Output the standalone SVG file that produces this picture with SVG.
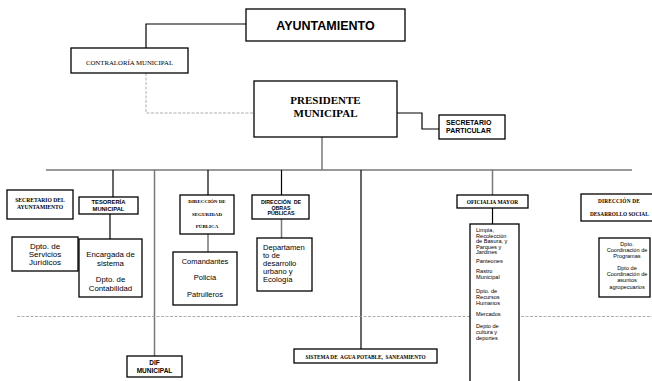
<svg xmlns="http://www.w3.org/2000/svg" width="652" height="381" viewBox="0 0 652 381">
<style>
.box{fill:#fff;stroke:#000;stroke-width:1.3}
.ln{fill:none;stroke:#000;stroke-width:1.2}
.gl{fill:none;stroke:#777;stroke-width:1.5}
.dash{fill:none;stroke:#999;stroke-width:0.8;stroke-dasharray:3,1.5}
.ser{font-family:"Liberation Serif",serif;fill:#000}
.sb{font-family:"Liberation Sans",Arial,sans-serif;font-weight:bold;fill:#000}
.sn{font-family:"Liberation Sans",Arial,sans-serif;fill:#000}
</style>
<rect width="652" height="381" fill="#fff"/>
<g id="connectors">
<polyline class="ln" points="246,24 146,24 146,48"/>
<polyline class="dash" points="146,73 146,113 255,113"/>
<polyline class="ln" points="397,113 422,113 422,129 439,129"/>
<line class="gl" x1="322" y1="137" x2="322" y2="170"/>
<line class="gl" x1="46" y1="170" x2="632" y2="170"/>
<line class="ln" x1="113" y1="170" x2="113" y2="197"/>
<line class="ln" x1="110" y1="214" x2="110" y2="239"/>
<line class="gl" x1="154.5" y1="170" x2="154.5" y2="356"/>
<line class="ln" x1="208" y1="170" x2="208" y2="195"/>
<line class="gl" x1="208" y1="234" x2="208" y2="252"/>
<line class="ln" x1="281.5" y1="170" x2="281.5" y2="195"/>
<line class="gl" x1="281.5" y1="219" x2="281.5" y2="238"/>
<line class="ln" x1="361" y1="170" x2="361" y2="349"/>
<line class="gl" x1="492.5" y1="170" x2="492.5" y2="195"/>
<line class="ln" x1="492.5" y1="208" x2="492.5" y2="224"/>
<line class="dash" x1="17" y1="316.5" x2="652" y2="316.5"/>
</g>
<g id="ayuntamiento">
<rect class="box" x="246" y="9" width="159" height="32"/>
<text class="sb" x="325.5" y="29.5" font-size="12.5" text-anchor="middle">AYUNTAMIENTO</text>
</g>
<g id="contraloria">
<rect class="box" x="71" y="48" width="117" height="25"/>
<text class="ser" x="129.5" y="65" font-size="6.8" text-anchor="middle">CONTRALORÍA MUNICIPAL</text>
</g>
<g id="presidente">
<rect class="box" x="254" y="81" width="143" height="56"/>
<text class="ser" x="325.5" y="104" font-size="11" font-weight="bold" text-anchor="middle">PRESIDENTE</text>
<text class="ser" x="325.5" y="116.7" font-size="11" font-weight="bold" text-anchor="middle">MUNICIPAL</text>
</g>
<g id="secretario-particular">
<rect class="box" x="439" y="115" width="66" height="24"/>
<text class="sb" x="446" y="125" font-size="7">SECRETARIO</text>
<text class="sb" x="446" y="132.7" font-size="7">PARTICULAR</text>
</g>
<g id="secretario-ayuntamiento">
<rect class="box" x="7" y="190" width="66" height="29"/>
<text class="ser" x="40" y="202" font-size="5.6" font-weight="bold" text-anchor="middle">SECRETARIO DEL</text>
<text class="ser" x="40" y="209" font-size="5.6" font-weight="bold" text-anchor="middle">AYUNTAMIENTO</text>
</g>
<g id="tesoreria">
<rect class="box" x="79" y="197" width="59" height="17"/>
<text class="sb" x="108.5" y="204" font-size="5.8" text-anchor="middle">TESORERÍA</text>
<text class="sb" x="108.5" y="211" font-size="5.8" text-anchor="middle">MUNICIPAL</text>
</g>
<g id="juridicos">
<rect class="box" x="12" y="237" width="66" height="34"/>
<text class="sn" x="45" y="249" font-size="8" text-anchor="middle">Dpto. de</text>
<text class="sn" x="45" y="257" font-size="8" text-anchor="middle">Servicios</text>
<text class="sn" x="45" y="265" font-size="8" text-anchor="middle">Jurídicos</text>
</g>
<g id="contabilidad">
<rect class="box" x="79" y="239" width="63" height="58"/>
<text class="sn" x="110.5" y="257" font-size="7.8" text-anchor="middle">Encargada de</text>
<text class="sn" x="110.5" y="265.5" font-size="7.8" text-anchor="middle">sistema</text>
<text class="sn" x="110.5" y="282" font-size="7.8" text-anchor="middle">Dpto. de</text>
<text class="sn" x="110.5" y="290.5" font-size="7.8" text-anchor="middle">Contabilidad</text>
</g>
<g id="seguridad">
<rect class="box" x="180" y="195" width="54" height="39"/>
<text class="ser" x="207" y="203" font-size="5" font-weight="bold" text-anchor="middle">DIRECCIÓN DE</text>
<text class="ser" x="207" y="216" font-size="5" font-weight="bold" text-anchor="middle">SEGURIDAD</text>
<text class="ser" x="207" y="228" font-size="5" font-weight="bold" text-anchor="middle">PÚBLICA</text>
</g>
<g id="policia">
<rect class="box" x="173" y="252" width="64" height="53"/>
<text class="sn" x="205" y="264" font-size="7.5" text-anchor="middle">Comandantes</text>
<text class="sn" x="205" y="280" font-size="7.5" text-anchor="middle">Policía</text>
<text class="sn" x="205" y="297" font-size="7.5" text-anchor="middle">Patrulleros</text>
</g>
<g id="obras">
<rect class="box" x="252" y="195" width="57" height="24"/>
<text class="sb" x="281" y="204" font-size="5.3" text-anchor="middle" xml:space="preserve">DIRECCIÓN  DE</text>
<text class="sb" x="281" y="209.5" font-size="5.3" text-anchor="middle">OBRAS</text>
<text class="sb" x="281" y="215" font-size="5.3" text-anchor="middle">PÚBLICAS</text>
</g>
<g id="desarrollo-urbano">
<rect class="box" x="257" y="238" width="55" height="53"/>
<text class="sn" x="263" y="250" font-size="7.6">Departamen</text>
<text class="sn" x="263" y="258" font-size="7.6">to de</text>
<text class="sn" x="263" y="266" font-size="7.6">desarrollo</text>
<text class="sn" x="263" y="274" font-size="7.6">urbano y</text>
<text class="sn" x="263" y="282" font-size="7.6">Ecología</text>
</g>
<g id="oficialia">
<rect class="box" x="457" y="195" width="71" height="13"/>
<text class="ser" x="492.5" y="204" font-size="5.5" font-weight="bold" text-anchor="middle">OFICIALIA MAYOR</text>
</g>
<g id="servicios-municipales">
<rect class="box" x="470" y="224" width="49" height="165"/>
<g class="sn" font-size="5.6">
<text x="476" y="232">Limpia,</text>
<text x="476" y="237.5">Recolección</text>
<text x="476" y="243">de Basura, y</text>
<text x="476" y="248.5">Parques y</text>
<text x="476" y="254">Jardines</text>
<text x="476" y="263">Panteones</text>
<text x="476" y="273">Rastro</text>
<text x="476" y="278.5">Municipal</text>
<text x="476" y="293">Dpto. de</text>
<text x="476" y="299">Recursos</text>
<text x="476" y="305">Humanos</text>
<text x="476" y="315.5">Mercados</text>
<text x="476" y="328">Depto de</text>
<text x="476" y="334">cultura y</text>
<text x="476" y="340">deportes</text>
</g>
</g>
<g id="desarrollo-social">
<rect class="box" x="581" y="194" width="80" height="27"/>
<text class="ser" x="619" y="203" font-size="5.3" font-weight="bold" text-anchor="middle" letter-spacing="0.2">DIRECCIÓN DE</text>
<text class="ser" x="590" y="215.5" font-size="5.3" font-weight="bold">DESARROLLO SOCIAL</text>
</g>
<g id="coordinacion">
<rect class="box" x="599" y="238" width="51" height="59"/>
<g class="sn" font-size="5.6" text-anchor="middle">
<text x="627" y="246">Dpto.</text>
<text x="627" y="252">Coordinación de</text>
<text x="627" y="258">Programas</text>
<text x="627" y="270">Dpto de</text>
<text x="627" y="276">Coordinación de</text>
<text x="627" y="282">asuntos</text>
<text x="627" y="289">agropecuarios</text>
</g>
</g>
<g id="dif">
<rect class="box" x="127" y="356" width="55" height="21"/>
<text class="sb" x="154.5" y="365" font-size="6.5" text-anchor="middle">DIF</text>
<text class="sb" x="154.5" y="373" font-size="6.5" text-anchor="middle">MUNICIPAL</text>
</g>
<g id="agua">
<rect class="box" x="294" y="349" width="143" height="14"/>
<text class="ser" x="365.5" y="358.5" font-size="5.3" font-weight="bold" text-anchor="middle" xml:space="preserve">SISTEMA DE  AGUA POTABLE,  SANEAMIENTO</text>
</g>
</svg>
